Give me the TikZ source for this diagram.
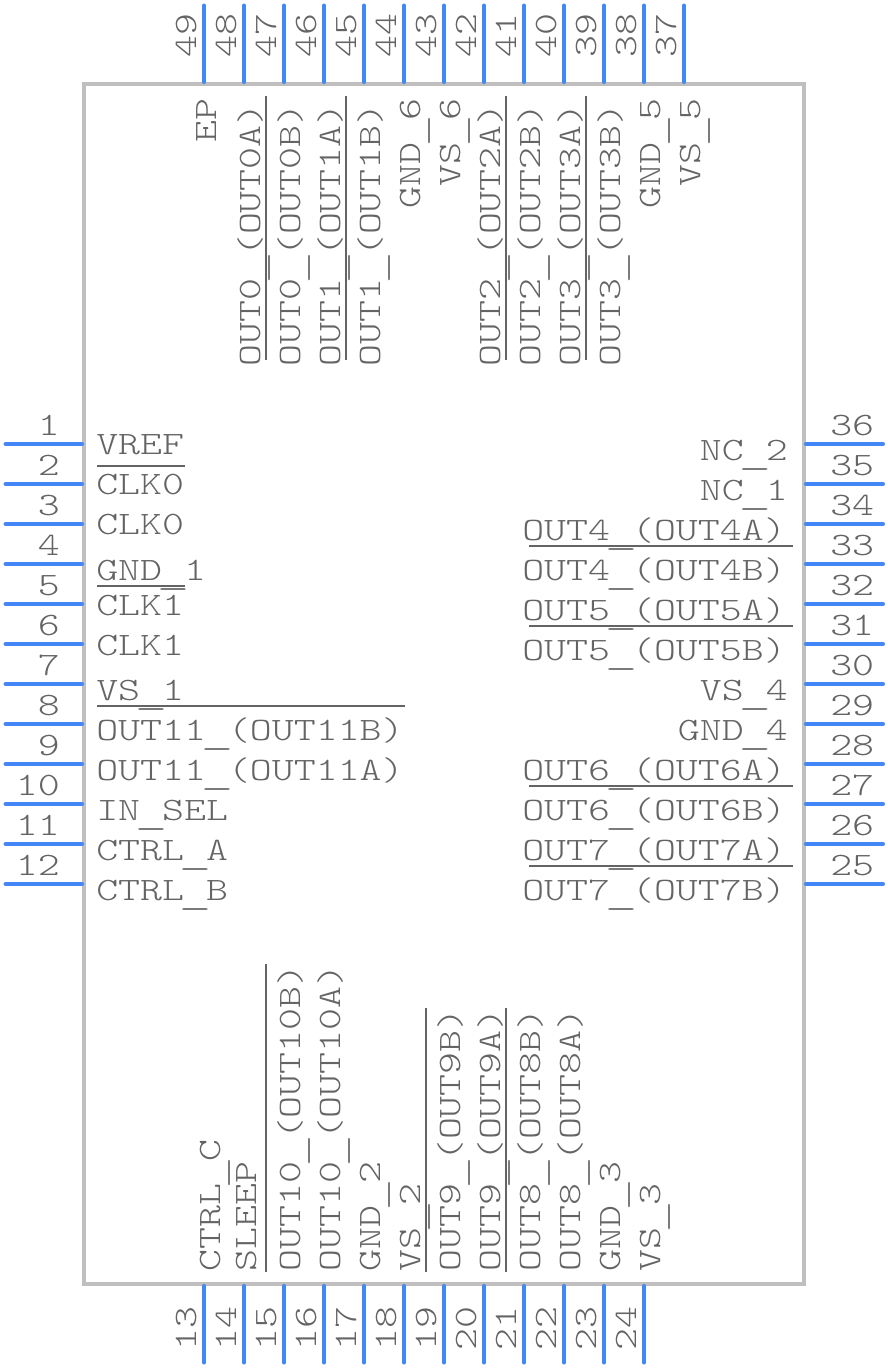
\documentclass[tikz,border=0pt]{standalone}
\usepackage{graphicx}
\usepackage{fontspec}
\setmonofont[FakeStretch=1.28]{Latin Modern Mono Light}
\usetikzlibrary{calc}
\definecolor{pinblue}{HTML}{4287F5}
\definecolor{bodygray}{HTML}{BFBFBF}
\definecolor{textgray}{HTML}{646464}
\newcommand{\lowscore}{\raisebox{-3pt}{\makebox[16.5pt]{\scalebox{1.5}[1]{\_}}}}
\tikzset{
    pinline/.style={pinblue,line width=3pt,line cap=round},
    bodybox/.style={draw=bodygray,line width=3pt},
    barline/.style={textgray,line width=1.5pt},
    pintext/.style={textgray,inner sep=0pt,font=\ttfamily\fontsize{24.5}{24.5}\selectfont},
}

\begin{document}
\begin{tikzpicture}[x=0.75pt,y=-0.75pt]
    \useasboundingbox (0,0) rectangle (888,1368);
    \coordinate (bodynw) at (84,84);
    \coordinate (bodyse) at (804,1284);
    \draw[bodybox] (bodynw) rectangle (bodyse);
    % pins and their numbers
    \foreach \n [evaluate=\n as \y using int(404+40*\n)] in {1,...,12} {
        \coordinate (pout\n) at (5.5,\y);
        \coordinate (pin\n) at (82,\y);
        \draw[pinline] (pout\n) -- (pin\n);
        \node[pintext,anchor=base east] (num\n) at (60,\y-9) {\n};
    }
    \foreach \n [evaluate=\n as \x using int(204+40*(\n-13))] in {13,...,24} {
        \coordinate (pout\n) at (\x,1362.5);
        \coordinate (pin\n) at (\x,1286);
        \draw[pinline] (pout\n) -- (pin\n);
        \node[pintext,rotate=90,anchor=base west] (num\n) at (\x-8,1351) {\n};
    }
    \foreach \n [evaluate=\n as \y using int(444+40*(36-\n))] in {25,...,36} {
        \coordinate (pout\n) at (883,\y);
        \coordinate (pin\n) at (806,\y);
        \draw[pinline] (pout\n) -- (pin\n);
        \node[pintext,anchor=base west] (num\n) at (830,\y-9) {\n};
    }
    \foreach \n [evaluate=\n as \x using int(204+40*(49-\n))] in {37,...,49} {
        \coordinate (pout\n) at (\x,5.5);
        \coordinate (pin\n) at (\x,82);
        \draw[pinline] (pout\n) -- (pin\n);
        \node[pintext,rotate=90,anchor=base west] (num\n) at (\x-8,58) {\n};
    }
    % left side names
    \foreach \n/\y/\lbl in {1/454/VREF,2/494/CLK0,3/534/CLK0,4/580/GND\lowscore 1,5/615/CLK1,6/655/CLK1,
        7/700/VS\lowscore 1,8/740/OUT11\lowscore(OUT11B),9/780/OUT11\lowscore(OUT11A),10/820/IN\lowscore SEL,
        11/860/CTRL\lowscore A,12/900/CTRL\lowscore B}
        \node[pintext,anchor=base west] (name\n) at (96,\y) {\lbl};
    % right side names
    \foreach \n/\lbl in {34/OUT4\lowscore(OUT4A),33/OUT4\lowscore(OUT4B),32/OUT5\lowscore(OUT5A),31/OUT5\lowscore(OUT5B),
        28/OUT6\lowscore(OUT6A),27/OUT6\lowscore(OUT6B),26/OUT7\lowscore(OUT7A),25/OUT7\lowscore(OUT7B)}
        \node[pintext,anchor=base east] (name\n) at ($(pin\n)+(-20,16)$) {\lbl};
    \foreach \n/\lbl in {36/NC\lowscore 2,35/NC\lowscore 1,30/VS\lowscore 4,29/GND\lowscore 4}
        \node[pintext,anchor=base east] (name\n) at ($(pin\n)+(-18,16)$) {\lbl};
    % top side names
    \foreach \n/\lbl in {48/OUT0\lowscore(OUT0A),47/OUT0\lowscore(OUT0B),46/OUT1\lowscore(OUT1A),45/OUT1\lowscore(OUT1B),
        42/OUT2\lowscore(OUT2A),41/OUT2\lowscore(OUT2B),40/OUT3\lowscore(OUT3A),39/OUT3\lowscore(OUT3B)}
        \node[pintext,rotate=90,anchor=base west] (name\n) at ($(pin\n)+(16,285)$) {\lbl};
    \foreach \n/\lbl in {44/GND\lowscore 6,43/VS\lowscore 6,38/GND\lowscore 5,37/VS\lowscore 5}
        \node[pintext,rotate=90,anchor=base east] (name\n) at ($(pin\n)+(16,16)$) {\lbl};
    \node[pintext,rotate=90,anchor=base east] (name49) at ($(pin49)+(12,16)$) {EP};
    % bottom side names
    \foreach \n/\off/\lbl in {13/16/CTRL\lowscore C,14/12/SLEEP,15/16/OUT10\lowscore(OUT10B),16/16/OUT10\lowscore(OUT10A),
        17/16/GND\lowscore 2,18/16/VS\lowscore 2,19/16/OUT9\lowscore(OUT9B),20/16/OUT9\lowscore(OUT9A),
        21/16/OUT8\lowscore(OUT8B),22/16/OUT8\lowscore(OUT8A),23/16/GND\lowscore 3,24/16/VS\lowscore 3}
        \node[pintext,rotate=90,anchor=base west] (name\n) at ($(pin\n)+(\off,-14)$) {\lbl};
    % bars over the inverted names
    \draw[barline] ($(name2.base west)+(1,-28)$) -- ($(name2.base east)+(1,-28)$);
    \draw[barline] ($(name5.base west)+(1,-29)$) -- ($(name5.base east)+(1,-29)$);
    \draw[barline] ($(name8.base west)+(1,-34)$) -- ($(name8.base east)+(1,-34)$);
    \foreach \n in {33,31,27,25}
        \draw[barline] ($(name\n.base west)+(7,-34)$) -- ($(name\n.base east)+(7,-34)$);
    \foreach \n in {47,45,41,39}
        \draw[barline] ($(name\n.base west)+(-34,-7)$) -- ($(name\n.base east)+(-34,-7)$);
    \foreach \n in {15,19,21}
        \draw[barline] ($(name\n.base west)+(-34,0)$) -- ($(name\n.base east)+(-34,0)$);
\end{tikzpicture}
\end{document}
